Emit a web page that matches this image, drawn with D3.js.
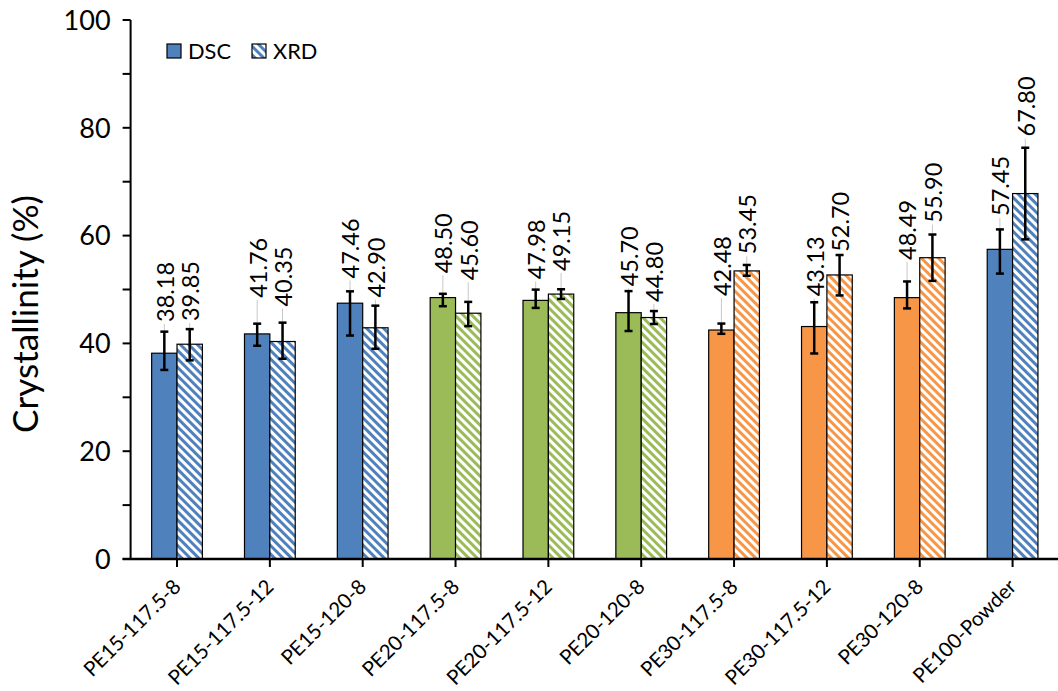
<!DOCTYPE html>
<html>
<head>
<meta charset="utf-8">
<script src="https://cdn.jsdelivr.net/npm/d3@7"></script>
<style>
  html, body { margin: 0; padding: 0; background: #fff; }
  svg { display: block; font-family: Lato, "Open Sans", sans-serif; }
</style>
</head>
<body>
<svg id="chart" width="1058" height="691"></svg>
<script>
// Sample names along the x axis
const categories = [
  "PE15-117.5-8", "PE15-117.5-12", "PE15-120-8",
  "PE20-117.5-8", "PE20-117.5-12", "PE20-120-8",
  "PE30-117.5-8", "PE30-117.5-12", "PE30-120-8",
  "PE100-Powder"
];
const seriesNames = ["DSC", "XRD"];

// Crystallinity (%) by method
const dscValues = [38.18, 41.76, 47.46, 48.50, 47.98, 45.70, 42.48, 43.13, 48.49, 57.45];
const xrdValues = [39.85, 40.35, 42.90, 45.60, 49.15, 44.80, 53.45, 52.70, 55.90, 67.80];

// Error bar extents (above / below the mean)
const dscErrPlus  = [4.0, 1.9, 2.2, 0.7, 2.0, 4.0, 1.2, 4.5, 3.0, 3.7];
const dscErrMinus = [3.1, 2.2, 6.0, 1.6, 1.4, 3.4, 0.7, 5.0, 2.0, 4.5];
const xrdErrPlus  = [2.8, 3.5, 4.1, 2.1, 0.9, 1.2, 1.1, 3.7, 4.3, 8.5];
const xrdErrMinus = [3.0, 3.2, 3.9, 2.4, 0.9, 1.2, 0.9, 3.8, 4.3, 8.5];

// Y axis ticks
const yMajorTicks = [0, 20, 40, 60, 80, 100];
const yMinorTicks = [10, 30, 50, 70, 90];

// Group colours (PE15 blue, PE20 green, PE30 orange, PE100 blue)
const groupColors = ["#4F81BD", "#4F81BD", "#4F81BD", "#9BBB59", "#9BBB59", "#9BBB59",
                     "#F79646", "#F79646", "#F79646", "#4F81BD"];

// How far each value label sits above its error bar cap (in % units)
const dscLabelLift = [1.8, 4.8, 2.4, 3.8, 1.9, 0.9, 5.1, 1.1, 4.0, 2.5];
const xrdLabelLift = [1.5, 3.0, 1.5, 4.0, 3.4, 1.7, 2.0, 0.6, 2.2, 2.1];

const svg = d3.select("#chart");
const plotLeft = 130.6, plotRight = 1059, plotTop = 20, plotBottom = 559;

// Pick a font size so that a sample string spans the wanted length
function fitSize(sample, wanted, base) {
  const t = svg.append("text").attr("font-size", base).text(sample);
  const len = t.node().getComputedTextLength();
  t.remove();
  return len > 0 ? base * wanted / len : base;
}
const valueSize  = fitSize("45.70", 60, 24);
const xLabelSize = fitSize("PE30-117.5-12", 139, 22);
const yTickSize  = fitSize("100", 47, 28);
const titleSize  = fitSize("Crystallinity (%)", 238, 34);
const legendSize = fitSize("DSC", 43, 24);

const x0 = d3.scaleBand().domain(categories).range([plotLeft, plotRight]).padding(0);
const x1 = d3.scaleBand().domain(seriesNames).range([0, x0.bandwidth()])
  .paddingInner(0).paddingOuter(0.83);
const y = d3.scaleLinear().domain([0, 100]).range([plotBottom, plotTop]);

// Diagonal hatch patterns for XRD bars, one per colour
const defs = svg.append("defs");
const uniqueColors = Array.from(new Set(groupColors));
const patternId = c => "hatch" + c.replace("#", "");
uniqueColors.forEach(c => {
  const p = defs.append("pattern")
    .attr("id", patternId(c))
    .attr("patternUnits", "userSpaceOnUse")
    .attr("width", 6).attr("height", 6)
    .attr("patternTransform", "rotate(-45)");
  p.append("rect").attr("width", 6).attr("height", 6).attr("fill", "#fff");
  p.append("rect").attr("width", 3).attr("height", 6).attr("fill", c);
});

const rows = categories.map((cat, i) => ({
  cat, i,
  series: [
    { key: "DSC", value: dscValues[i], plus: dscErrPlus[i], minus: dscErrMinus[i], lift: dscLabelLift[i] },
    { key: "XRD", value: xrdValues[i], plus: xrdErrPlus[i], minus: xrdErrMinus[i], lift: xrdLabelLift[i] }
  ]
}));

const groups = svg.append("g").selectAll("g").data(rows).join("g")
  .attr("transform", d => `translate(${x0(d.cat)},0)`);

// Bars
groups.selectAll("rect.bar").data(d => d.series.map(s => ({ ...s, i: d.i }))).join("rect")
  .attr("class", "bar")
  .attr("x", s => x1(s.key))
  .attr("y", s => y(s.value))
  .attr("width", x1.bandwidth())
  .attr("height", s => y(0) - y(s.value))
  .attr("fill", s => s.key === "DSC" ? groupColors[s.i] : `url(#${patternId(groupColors[s.i])})`)
  .attr("stroke", "#000")
  .attr("stroke-width", 1.2);

// Leader lines from error caps to value labels
groups.selectAll("line.leader").data(d => d.series).join("line")
  .attr("class", "leader")
  .attr("x1", s => x1(s.key) + x1.bandwidth() / 2)
  .attr("x2", s => x1(s.key) + x1.bandwidth() / 2)
  .attr("y1", s => y(s.value + s.plus))
  .attr("y2", s => y(s.value + s.plus + s.lift) + 2)
  .attr("stroke", "#c8c8c8")
  .attr("stroke-width", 1);

// Error bars
const eb = groups.selectAll("g.err").data(d => d.series).join("g")
  .attr("class", "err")
  .attr("transform", s => `translate(${x1(s.key) + x1.bandwidth() / 2},0)`)
  .attr("stroke", "#000").attr("stroke-width", 2.5);
eb.append("line").attr("y1", s => y(s.value + s.plus)).attr("y2", s => y(s.value - s.minus));
eb.append("line").attr("x1", -4).attr("x2", 4).attr("y1", s => y(s.value + s.plus)).attr("y2", s => y(s.value + s.plus));
eb.append("line").attr("x1", -4).attr("x2", 4).attr("y1", s => y(s.value - s.minus)).attr("y2", s => y(s.value - s.minus));

// Value labels, rotated
groups.selectAll("text.val").data(d => d.series).join("text")
  .attr("class", "val")
  .attr("transform", s => `translate(${x1(s.key) + x1.bandwidth() / 2 + valueSize * 0.4},${y(s.value + s.plus + s.lift)}) rotate(-90)`)
  .attr("font-size", valueSize)
  .attr("fill", "#000")
  .text(s => s.value.toFixed(2));

// Y axis
const yAxis = svg.append("g").attr("transform", `translate(${plotLeft},0)`);
yAxis.append("line").attr("y1", y(0)).attr("y2", y(100)).attr("stroke", "#000").attr("stroke-width", 2);
yAxis.selectAll("line.tick").data(yMajorTicks.concat(yMinorTicks)).join("line")
  .attr("class", "tick")
  .attr("x1", -8).attr("x2", 0)
  .attr("y1", d => y(d)).attr("y2", d => y(d))
  .attr("stroke", "#000").attr("stroke-width", 2);
yAxis.selectAll("text").data(yMajorTicks).join("text")
  .attr("x", -20).attr("y", d => y(d))
  .attr("dy", "0.36em")
  .attr("text-anchor", "end")
  .attr("font-size", yTickSize)
  .attr("fill", "#000")
  .text(d => d);

svg.append("text")
  .attr("transform", `translate(${12 + titleSize * 0.75},314) rotate(-90)`)
  .attr("text-anchor", "middle")
  .attr("font-size", titleSize)
  .attr("fill", "#000")
  .text("Crystallinity (%)");

// X axis
const xAxis = svg.append("g");
xAxis.append("line").attr("x1", plotLeft - 8).attr("x2", plotRight).attr("y1", y(0)).attr("y2", y(0))
  .attr("stroke", "#000").attr("stroke-width", 2.5);
xAxis.selectAll("line.tick").data(categories).join("line")
  .attr("class", "tick")
  .attr("x1", d => x0(d) + x0.bandwidth() / 2).attr("x2", d => x0(d) + x0.bandwidth() / 2)
  .attr("y1", y(0)).attr("y2", y(0) + 8)
  .attr("stroke", "#000").attr("stroke-width", 2);
xAxis.selectAll("text").data(categories).join("text")
  .attr("transform", d => `translate(${x0(d) + x0.bandwidth() / 2 + 5},${y(0) + 29}) rotate(-45)`)
  .attr("text-anchor", "end")
  .attr("font-size", xLabelSize)
  .attr("fill", "#000")
  .text(d => d);

// Legend
const legend = svg.append("g");
const legendItems = [
  { key: "DSC", x: 167, fill: groupColors[0] },
  { key: "XRD", x: 252, fill: `url(#${patternId(groupColors[0])})` }
];
legendItems.forEach(it => {
  legend.append("rect").attr("x", it.x).attr("y", 44).attr("width", 14).attr("height", 14)
    .attr("fill", it.fill).attr("stroke", "#000").attr("stroke-width", 1.2);
  legend.append("text").attr("x", it.x + 21).attr("y", 51).attr("dy", "0.36em")
    .attr("font-size", legendSize).attr("fill", "#000").text(it.key);
});
</script>
</body>
</html>
